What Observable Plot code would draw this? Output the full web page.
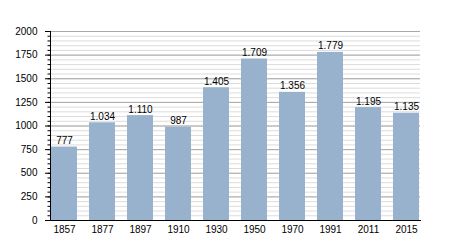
<!DOCTYPE html>
<html>
<head>
<meta charset="utf-8">
<script src="https://cdn.jsdelivr.net/npm/d3@7"></script>
<script src="https://cdn.jsdelivr.net/npm/@observablehq/plot@0.6"></script>
<style>
  html, body { margin: 0; padding: 0; background: #fff; }
  svg { display: block; }
</style>
</head>
<body>
<div id="chart"></div>
<script>
const years = ["1857", "1877", "1897", "1910", "1930", "1950", "1970", "1991", "2011", "2015"];
const population = [777, 1034, 1110, 987, 1405, 1709, 1356, 1779, 1195, 1135];
const majorTicks = [0, 250, 500, 750, 1000, 1250, 1500, 1750, 2000];
const minorTicks = d3.range(0, 2001, 50);

const data = years.map((y, i) => ({year: y, value: population[i]}));
const fmt = d3.formatLocale({decimal: ",", thousands: ".", grouping: [3], currency: ["", ""]}).format(",");

const chart = Plot.plot({
  width: 450,
  height: 250,
  marginLeft: 50,
  marginRight: 30,
  marginTop: 31,
  marginBottom: 30,
  style: {fontFamily: "'Liberation Sans', Arial, sans-serif", fontSize: "10px", color: "#000", background: "#fff"},
  x: {domain: years, paddingInner: 0.32, paddingOuter: 0.02, label: null},
  y: {domain: [0, 2000], label: null},
  marks: [
    Plot.ruleY(minorTicks, {stroke: "#dcdcdc", strokeWidth: 1}),
    Plot.ruleY(majorTicks, {stroke: "#a8a8a8", strokeWidth: 1}),
    Plot.barY(data, {x: "year", y: "value", fill: "#98b2ce"}),
    Plot.text(data, {x: "year", y: "value", text: d => fmt(d.value), lineAnchor: "bottom", dy: -3, fill: "#000"}),
    Plot.axisY({ticks: minorTicks, tickSize: 2.5, text: null, label: null, stroke: "#000"}),
    Plot.axisY({ticks: majorTicks, tickSize: 5, tickPadding: 8, tickFormat: d => String(d), label: null, stroke: "#000", fill: "#000"}),
    Plot.axisX({tickSize: 0, tickPadding: 5, label: null, fill: "#000"}),
    Plot.frame({anchor: "left", stroke: "#000"}),
    Plot.frame({anchor: "bottom", stroke: "#000"})
  ]
});
document.getElementById("chart").appendChild(chart);
</script>
</body>
</html>
